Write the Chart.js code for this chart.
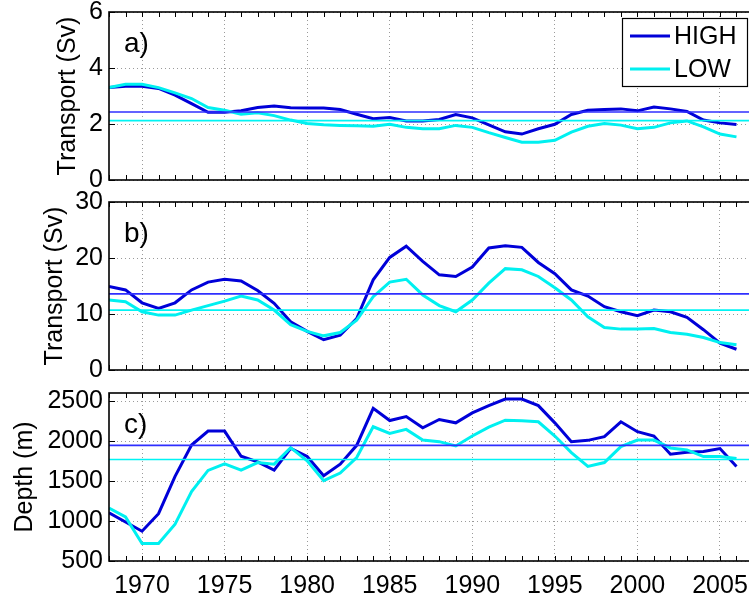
<!DOCTYPE html>
<html>
<head>
<meta charset="utf-8">
<script src="https://cdn.jsdelivr.net/npm/chart.js@4.4.1/dist/chart.umd.min.js"></script>
<style>
html,body{margin:0;padding:0;background:#fff;overflow:hidden;width:749px;height:597px}
canvas{position:absolute;left:0}
</style>
</head>
<body>
<canvas id="graph_a" width="770" height="190" style="top:0px"></canvas>
<canvas id="graph_b" width="770" height="190" style="top:190px"></canvas>
<canvas id="graph_c" width="770" height="217" style="top:380px"></canvas>
<script>
let years=[1968,1969,1970,1971,1972,1973,1974,1975,1976,1977,1978,1979,1980,1981,1982,1983,1984,1985,1986,1987,
  1988,1989,1990,1991,1992,1993,1994,1995,1996,1997,1998,1999,2000,2001,2002,2003,2004,2005,2006];
let year_ticks=[1970,1975,1980,1985,1990,1995,2000,2005];

// panel a) transport (Sv)
let high_a=[3.30,3.35,3.35,3.27,3.03,2.73,2.42,2.42,2.47,2.59,2.64,2.58,2.57,2.57,2.52,2.35,2.19,2.23,2.11,2.11,
  2.16,2.34,2.22,1.97,1.72,1.64,1.83,1.99,2.34,2.49,2.52,2.54,2.47,2.61,2.54,2.45,2.14,2.04,1.98];
let low_a=[3.30,3.42,3.42,3.30,3.11,2.91,2.59,2.49,2.35,2.40,2.30,2.14,2.02,1.97,1.95,1.94,1.92,1.99,1.88,1.83,
  1.83,1.95,1.88,1.69,1.52,1.35,1.35,1.42,1.71,1.92,2.02,1.96,1.83,1.88,2.04,2.11,1.90,1.64,1.54];
let high_a_mean=2.43;
let low_a_mean=2.12;
let ticks_a=[0,2,4,6];

// panel b) transport (Sv)
let high_b=[14.9,14.3,12.0,11.0,12.0,14.3,15.7,16.2,15.9,14.2,11.9,8.6,6.9,5.4,6.2,9.2,16.1,20.1,22.1,19.4,
  17.0,16.7,18.4,21.8,22.2,21.9,19.2,17.2,14.3,13.2,11.3,10.4,9.7,10.7,10.4,9.4,7.2,4.8,3.7];
let low_b=[12.5,12.2,10.4,9.8,9.8,10.7,11.5,12.3,13.2,12.5,10.7,8.1,6.9,6.1,6.7,8.9,13.1,15.7,16.2,13.4,
  11.5,10.4,12.5,15.5,18.1,17.9,16.7,14.7,12.5,9.5,7.6,7.3,7.3,7.4,6.7,6.4,5.8,4.9,4.5];
let high_b_mean=13.6;
let low_b_mean=10.7;
let ticks_b=[0,10,20,30];

// panel c) depth (m)
let high_c=[1103,988,872,1091,1558,1950,2124,2124,1810,1740,1636,1909,1806,1566,1711,1946,2409,2256,2306,2165,
  2269,2227,2351,2442,2525,2525,2442,2227,1992,2008,2054,2240,2116,2062,1835,1860,1868,1905,1682];
let low_c=[1161,1050,719,719,959,1368,1632,1715,1636,1731,1711,1917,1752,1504,1599,1793,2178,2095,2145,2012,
  1992,1938,2062,2174,2260,2252,2240,2062,1855,1682,1731,1930,2012,2012,1913,1888,1806,1806,1781];
let high_c_mean=1945;
let low_c_mean=1768;
let ticks_c=[500,1000,1500,2000,2500];

const FONT='"Liberation Sans", Arial, Helvetica, sans-serif';
const HIGH_COLOR='#0000d8';
const HIGH_MEAN_COLOR='#2f2fff';
const LOW_COLOR='#00f0f0';
const LOW_MEAN_COLOR='#00f4f4';

// box round the axes, inward ticks, panel letter and legend
const frame_plugin={
  id:'frame',
  afterDraw(chart,args,opts){
    const ctx=chart.ctx;
    const a=chart.chartArea;
    const x=chart.scales.x;
    const y=chart.scales.y;
    ctx.save();
    ctx.strokeStyle='#000';
    ctx.lineWidth=1;
    ctx.beginPath();
    for(let i=0;i<years.length;i++){
      const px=Math.round(x.getPixelForValue(years[i]))+0.5;
      ctx.moveTo(px,a.top);ctx.lineTo(px,a.top+5);
      ctx.moveTo(px,a.bottom);ctx.lineTo(px,a.bottom-5);
    }
    for(let i=0;i<opts.yticks.length;i++){
      const py=Math.round(y.getPixelForValue(opts.yticks[i]))+0.5;
      ctx.moveTo(a.left,py);ctx.lineTo(a.left+6,py);
    }
    ctx.stroke();
    ctx.lineWidth=1.6;
    ctx.strokeRect(a.left,a.top,a.right-a.left,a.bottom-a.top);

    ctx.fillStyle='#000';
    ctx.font='28px '+FONT;
    ctx.textBaseline='middle';
    ctx.textAlign='left';
    ctx.fillText(opts.tag,a.left+15,a.top+32);

    if(opts.legend){
      const items=chart.data.datasets.filter(d=>d.inLegend);
      const bx=622,by=18,bw=125,bh=68;
      ctx.fillStyle='#fff';
      ctx.fillRect(bx,by,bw,bh);
      ctx.lineWidth=1.2;
      ctx.strokeStyle='#000';
      ctx.strokeRect(bx+0.5,by+0.5,bw,bh);
      ctx.font='25px '+FONT;
      items.forEach((d,i)=>{
        const ly=by+18+i*33;
        ctx.strokeStyle=d.borderColor;
        ctx.lineWidth=3;
        ctx.beginPath();ctx.moveTo(bx+8,ly);ctx.lineTo(bx+48,ly);ctx.stroke();
        ctx.fillStyle='#000';
        ctx.fillText(d.label,bx+52,ly+1);
      });
    }
    ctx.restore();
  }
};

function points(vals){
  let out=[];
  for(let i=0;i<years.length;i++){out.push({x:years[i],y:vals[i]});}
  return out;
}
function mean_line(m){
  return [{x:years[0],y:m},{x:2007,y:m}];
}

function make_panel(id,hi,lo,hi_mean,lo_mean,ymin,ymax,yticks,ytitle,tag,title_pad,pad_top,pad_bottom,show_x,legend){
  const ctx=document.getElementById(id).getContext('2d');
  return new Chart(ctx,{
    type:'line',
    data:{
      datasets:[
        {label:'HIGH',data:points(hi),borderColor:HIGH_COLOR,borderWidth:3,pointRadius:0,order:4,inLegend:true},
        {label:'LOW',data:points(lo),borderColor:LOW_COLOR,borderWidth:3,pointRadius:0,order:3,inLegend:true},
        {label:'HIGH mean',data:mean_line(hi_mean),borderColor:HIGH_MEAN_COLOR,borderWidth:1.6,pointRadius:0,order:2},
        {label:'LOW mean',data:mean_line(lo_mean),borderColor:LOW_MEAN_COLOR,borderWidth:1.6,pointRadius:0,order:1}
      ]
    },
    options:{
      responsive:false,
      animation:false,
      layout:{padding:{left:0,right:17,top:pad_top,bottom:pad_bottom}},
      plugins:{
        legend:{display:false},
        tooltip:{enabled:false},
        frame:{tag:tag,yticks:yticks,legend:legend}
      },
      scales:{
        x:{
          type:'linear',
          min:1968,max:2007,
          afterBuildTicks:s=>{s.ticks=year_ticks.map(v=>({value:v}));},
          afterFit:s=>{s.height=show_x?36:0;s.paddingLeft=0;s.paddingRight=0;},
          grid:{color:'#9a9a9a',lineWidth:1,drawTicks:false},
          border:{display:false,dash:[1,3]},
          ticks:{
            display:show_x,
            padding:10,
            maxRotation:0,
            autoSkip:false,
            color:'#000',
            font:{family:FONT,size:25},
            callback:v=>String(v)
          }
        },
        y:{
          min:ymin,max:ymax,
          afterBuildTicks:s=>{s.ticks=yticks.map(v=>({value:v}));},
          afterFit:s=>{s.width=109;s.paddingTop=0;s.paddingBottom=0;},
          grid:{color:'#9a9a9a',lineWidth:1,drawTicks:false},
          border:{display:false,dash:[1,3]},
          ticks:{
            padding:6,
            color:'#000',
            font:{family:FONT,size:25},
            callback:v=>String(v)
          },
          title:{
            display:true,
            text:ytitle,
            color:'#000',
            font:{family:FONT,size:25},
            padding:{top:title_pad,bottom:0}
          }
        }
      }
    },
    plugins:[frame_plugin]
  });
}

make_panel('graph_a',high_a,low_a,high_a_mean,low_a_mean,0,6,ticks_a,'Transport (Sv)','a)',53,12,10,false,true);
make_panel('graph_b',high_b,low_b,high_b_mean,low_b_mean,0,30,ticks_b,'Transport (Sv)','b)',40,12,10,false,false);
make_panel('graph_c',high_c,low_c,high_c_mean,low_c_mean,500,2600,ticks_c,'Depth (m)','c)',10,13,0,true,false);
</script>
</body>
</html>
